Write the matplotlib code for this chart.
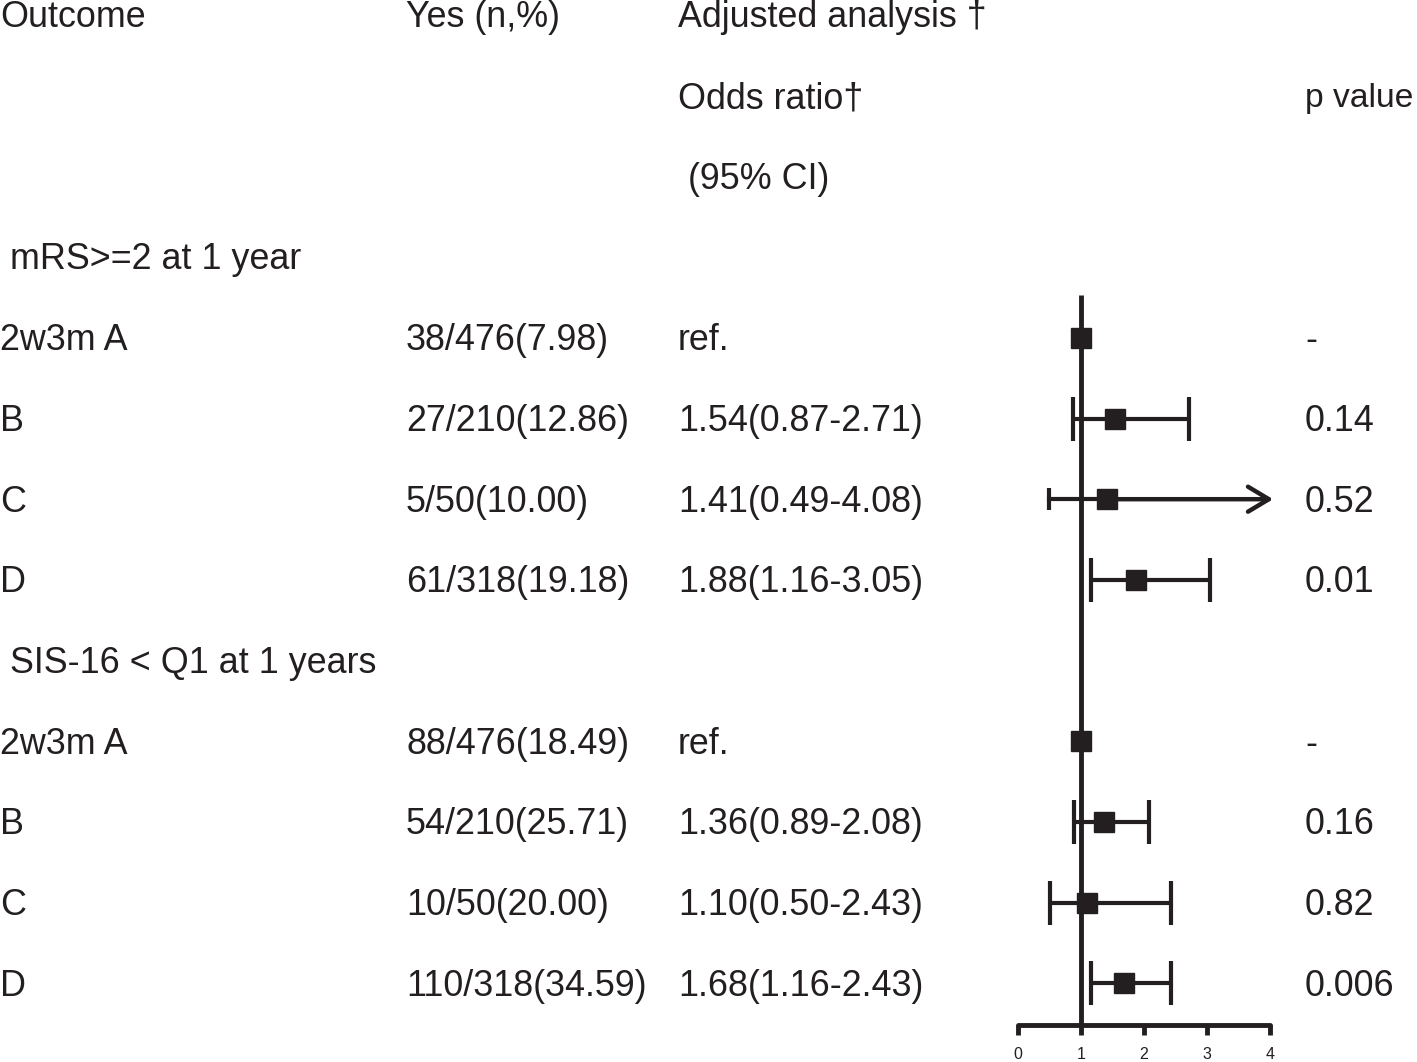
import matplotlib
matplotlib.use("Agg")
import matplotlib.pyplot as plt

plt.rcParams['font.family'] = ['Liberation Sans', 'DejaVu Sans']

groups = [" mRS>=2 at 1 year", " SIS-16 < Q1 at 1 years"]
labels = ["2w3m A", "B", "C", "D"]
yes_text = [["38/476(7.98)", "27/210(12.86)", "5/50(10.00)", "61/318(19.18)"],
            ["88/476(18.49)", "54/210(25.71)", "10/50(20.00)", "110/318(34.59)"]]
or_text = [["ref.", "1.54(0.87-2.71)", "1.41(0.49-4.08)", "1.88(1.16-3.05)"],
           ["ref.", "1.36(0.89-2.08)", "1.10(0.50-2.43)", "1.68(1.16-2.43)"]]
or_val = [[1.00, 1.54, 1.41, 1.88], [1.00, 1.36, 1.10, 1.68]]
or_lo = [[None, 0.87, 0.49, 1.16], [None, 0.89, 0.50, 1.16]]
or_hi = [[None, 2.71, 4.08, 3.05], [None, 2.08, 2.43, 2.43]]
p_text = [["-", "0.14", "0.52", "0.01"], ["-", "0.16", "0.82", "0.006"]]
xticks = [0, 1, 2, 3, 4]

W, H = 1417, 1062
row0, step = 15, 80.7
ink = '#231f20'
fig = plt.figure(figsize=(W / 100, H / 100), dpi=100)

# text layer, x in pixels, y in rows
tax = fig.add_axes([0, 0, 1, 1])
tax.set_xlim(0, W)
tax.set_ylim((H - row0) / step, -row0 / step)
tax.axis('off')

fs = 25.8
dy = 0.035  # small nudge down so the text sits like the original
col_x = [0, 406, 678, 1305]

def put(x, y, s, size=fs):
    tax.text(x, y + dy, s, fontsize=size, va='center', color=ink)

put(col_x[0], 0, "Outcome")
put(col_x[1], 0, "Yes (n,%)")
put(col_x[2], 0, "Adjusted analysis \u2020")
put(col_x[2], 1, "Odds ratio\u2020")
put(col_x[3], 1, "p value", size=24.2)  # a bit smaller so it stays inside the edge
put(col_x[2], 2, " (95% CI)")

rows = []
r = 3
for g in range(2):
    put(col_x[0], r, groups[g])
    r += 1
    for i in range(4):
        put(col_x[0], r, labels[i])
        put(col_x[1], r, yes_text[g][i])
        put(col_x[2], r, or_text[g][i])
        put(col_x[3], r, p_text[g][i])
        rows.append((g, i, r))
        r += 1

# forest axes
x0, x1 = 1018, 1270
ybot = 1025
ax = fig.add_axes([x0 / W, (H - ybot) / H, (x1 - x0) / W, ybot / H])
ax.set_xlim(0, 4)
ax.set_ylim((ybot - row0) / step, -row0 / step)
ax.patch.set_alpha(0)
for s in ['top', 'right', 'left']:
    ax.spines[s].set_visible(False)
ax.spines['bottom'].set_linewidth(3.5)
ax.spines['bottom'].set_color(ink)
ax.spines['bottom'].set_capstyle('round')
ax.set_yticks([])
ax.set_xticks(xticks)
ax.tick_params(axis='x', length=7, width=3.5, color=ink, labelcolor=ink, labelsize=11.5, pad=9)

ax.plot([1, 1], [(295 - row0) / step, (ybot - row0) / step], color=ink, lw=3.5,
        clip_on=False, zorder=2, solid_capstyle='butt')

for g, i, y in rows:
    v, lo, hi = or_val[g][i], or_lo[g][i], or_hi[g][i]
    if lo is not None:
        if hi > xticks[-1]:
            ax.plot([lo, v], [y, y], color=ink, lw=3, clip_on=False)
            ax.plot(lo, y, marker='|', ms=16, mew=3, color=ink, clip_on=False)
            ax.annotate("", xy=(4.05, y), xytext=(v, y),
                        arrowprops=dict(arrowstyle='->,head_length=0.5,head_width=0.3', lw=3.2,
                                        color=ink, mutation_scale=30, shrinkA=0, shrinkB=0),
                        annotation_clip=False)
        else:
            ax.errorbar(v, y, xerr=[[v - lo], [hi - v]], fmt='none', ecolor=ink,
                        elinewidth=3, capsize=16, capthick=3, clip_on=False)
    ax.plot(v, y, marker='s', ms=14, color=ink, clip_on=False, zorder=3)

fig.savefig("out.png", dpi=100)
